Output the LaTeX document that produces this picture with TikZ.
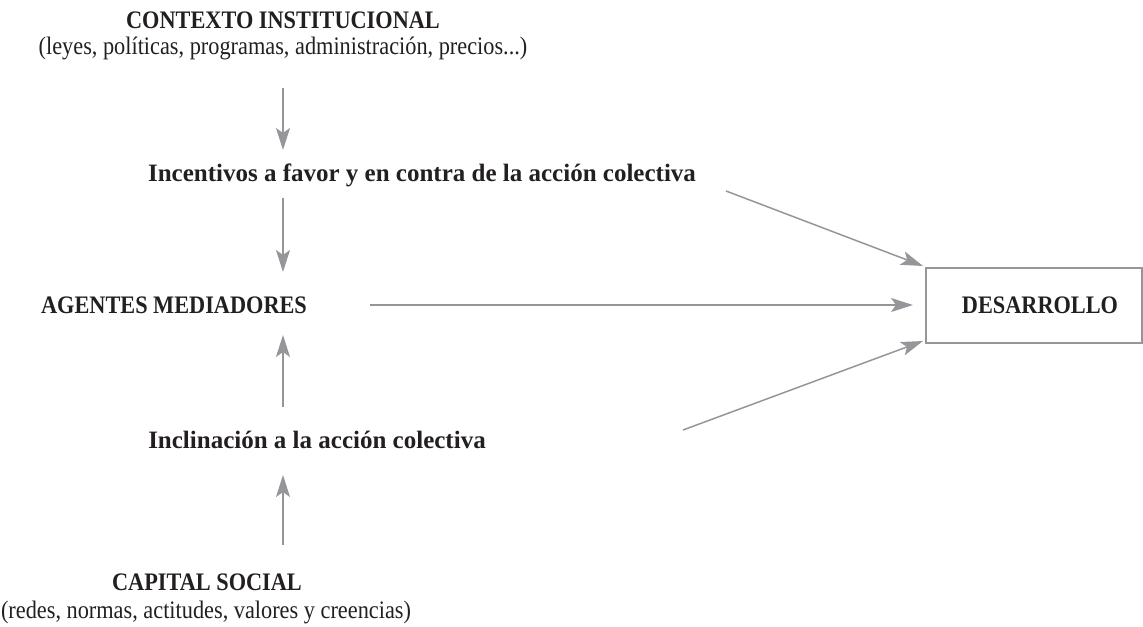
\documentclass[tikz,border=0pt]{standalone}
\usepackage{fontspec}
\setmainfont{Liberation Serif}
\newfontfamily\condfont{Liberation Serif}[FakeStretch=0.885]
\usetikzlibrary{arrows.meta}
\definecolor{ink}{RGB}{35,31,32}
\definecolor{arr}{RGB}{150,150,154}
\tikzset{
  lbl/.style={inner sep=0pt, text=ink, font=\condfont\fontsize{12.6}{14}\selectfont\bfseries},
  lbllow/.style={inner sep=0pt, text=ink, font=\fontsize{12.5}{14}\selectfont\bfseries},
  sub/.style={inner sep=0pt, text=ink, font=\condfont\fontsize{12.6}{14}\selectfont},
  conn/.style={draw=arr, line width=0.75pt, -{Stealth[length=11pt,width=7pt,inset=2.5pt]}},
  boxst/.style={draw=arr, line width=0.6pt}
}
\begin{document}
\begin{tikzpicture}[x=0.5pt,y=-0.5pt]
\useasboundingbox (0,0) rectangle (1143,626);
\node[lbl] (ctx) at (283,20) {CONTEXTO INSTITUCIONAL};
\node[sub] (ctxs) at (283,48) {(leyes, políticas, programas, administración, precios...)};
\node[lbllow] (inc) at (422,175) {Incentivos a favor y en contra de la acción colectiva};
\node[lbl] (ag) at (174,305) {AGENTES MEDIADORES};
\node[lbllow] (incl) at (317,440) {Inclinación a la acción colectiva};
\node[lbl] (cap) at (207,582) {CAPITAL SOCIAL};
\node[sub] (caps) at (206,612) {(redes, normas, actitudes, valores y creencias)};
\draw[boxst] (926,268) rectangle (1142,343);
\node[lbl] (des) at (1040,305) {DESARROLLO};
\coordinate (a1s) at (283,88);  \coordinate (a1e) at (283,150);
\coordinate (a2s) at (283,198); \coordinate (a2e) at (283,272);
\coordinate (a3s) at (283,407); \coordinate (a3e) at (283,335);
\coordinate (a4s) at (283,545); \coordinate (a4e) at (283,475);
\coordinate (hs) at (370,305);  \coordinate (he) at (913,305);
\coordinate (ts) at (726,191);  \coordinate (te) at (923,266);
\coordinate (bs) at (683,430);  \coordinate (be) at (923,341);
\draw[conn] (a1s) -- (a1e);
\draw[conn] (a2s) -- (a2e);
\draw[conn] (a3s) -- (a3e);
\draw[conn] (a4s) -- (a4e);
\draw[conn] (hs) -- (he);
\draw[conn] (ts) -- (te);
\draw[conn] (bs) -- (be);
\end{tikzpicture}
\end{document}
